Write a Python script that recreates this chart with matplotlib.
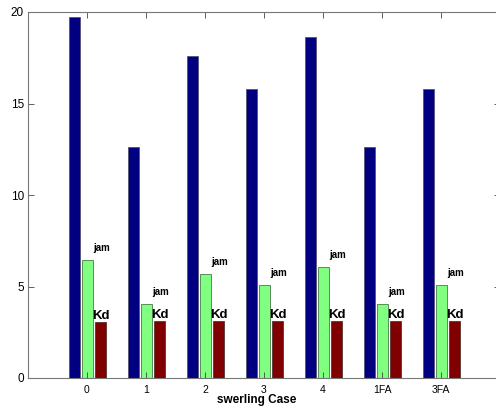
import matplotlib
matplotlib.use('Agg')
import matplotlib.pyplot as plt
import numpy as np

plt.rcParams['font.family'] = ['Liberation Sans', 'DejaVu Sans']

cases = ['0', '1', '2', '3', '4', '1FA', '3FA']
blue_vals = [19.75, 12.6, 17.6, 15.8, 18.65, 12.6, 15.8]
jam_vals = [6.45, 4.04, 5.68, 5.08, 6.07, 4.04, 5.08]
kd_vals = [3.06, 3.1, 3.1, 3.1, 3.1, 3.1, 3.1]

x = np.arange(len(cases))
w = 0.18

fig = plt.figure(figsize=(4.96, 4.09), dpi=100)
ax = fig.add_axes([28/496, 31/409, 472/496, 366/409])

ax.bar(x - 0.21, blue_vals, w, color='#000080', edgecolor='#555577', linewidth=0.6)
ax.bar(x + 0.01, jam_vals, w, color='#80ff80', edgecolor='#4a7a4a', linewidth=0.6)
ax.bar(x + 0.23, kd_vals, w, color='#800000', edgecolor='#553333', linewidth=0.6)

for xi, j, k in zip(x, jam_vals, kd_vals):
    ax.text(xi + 0.24, j + 0.4, 'jam', fontsize=7, fontweight='bold',
            ha='center', va='bottom')
    ax.text(xi + 0.24, k, 'Kd', fontsize=9.5, fontweight='bold',
            ha='center', va='bottom')

ax.set_xlim(-1, 7)
ax.set_ylim(0, 20)
ax.set_xticks(x)
ax.set_xticklabels(cases, fontsize=7.5)
ax.set_yticks([0, 5, 10, 15, 20])
ax.tick_params(axis='y', labelsize=8.5, pad=3)
ax.tick_params(axis='x', pad=5)
ax.tick_params(direction='in', top=True, right=True, length=4, width=0.6,
               color='#444444')
ax.set_xlabel('swerling Case', fontsize=8.5, fontweight='bold')
ax.xaxis.set_label_coords(0.485, -0.044)

for s in ax.spines.values():
    s.set_color('#777777')
    s.set_linewidth(0.8)

fig.savefig('out.png', dpi=100)
